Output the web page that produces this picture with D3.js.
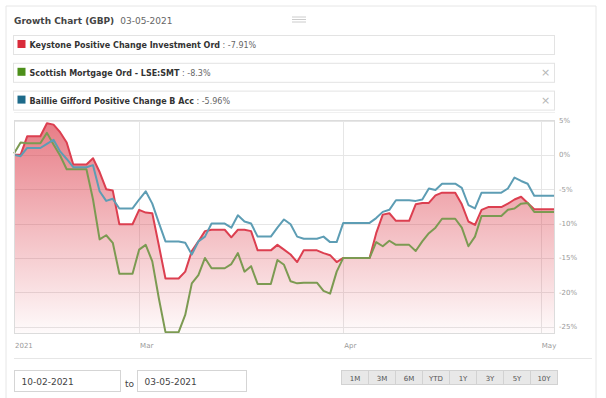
<!DOCTYPE html>
<html>
<head>
<meta charset="utf-8">
<script src="https://cdn.jsdelivr.net/npm/d3@7"></script>
<style>
body { margin: 0; background: #fff; }
svg { display: block; font-family: "DejaVu Sans", Verdana, sans-serif; }
</style>
</head>
<body>
<div id="chart"></div>
<script>
const width = 606;
const height = 398;

// one value per calendar day from 10-02-2021 to 03-05-2021 (weekends repeat friday)
const startDate = new Date(2021, 1, 10);
const keystone = [0.0, 0.0, 2.7, 2.7, 2.7, 4.6, 4.4, 3.3, 1.8, -1.4,
    -1.4, -1.4, -0.5, -2.5, -5.0, -5.2, -10.1, -10.1, -10.1, -8.0,
    -8.4, -8.5, -13.2, -18.0, -18.0, -18.0, -17.0, -14.0, -12.6, -11.1,
    -10.9, -10.9, -10.9, -12.0, -10.9, -10.9, -11.1, -13.9, -13.9, -13.9,
    -13.1, -13.8, -14.5, -15.6, -13.9, -13.9, -13.9, -14.3, -14.6, -15.6,
    -15.0, -15.0, -15.0, -15.0, -15.0, -11.4, -8.7, -8.5, -9.6, -9.6,
    -9.6, -7.2, -7.0, -7.0, -5.9, -5.5, -5.5, -5.5, -7.2, -9.7,
    -10.2, -8.0, -7.6, -7.6, -7.6, -7.1, -6.5, -6.1, -7.0, -7.91,
    -7.91, -7.91, -7.91];
const scottish = [0.2, 1.8, 1.7, 1.7, 1.7, 3.2, 1.5, -0.1, -2.1, -2.1,
    -2.1, -2.1, -6.5, -12.3, -11.7, -12.8, -17.3, -17.3, -17.3, -13.8,
    -13.1, -15.5, -20.9, -25.8, -25.8, -25.8, -23.3, -18.7, -17.5, -15.0,
    -16.5, -16.5, -16.5, -15.9, -14.3, -17.0, -16.2, -18.8, -18.8, -18.8,
    -15.3, -16.0, -18.4, -18.7, -18.6, -18.6, -18.6, -19.8, -20.2, -17.0,
    -15.0, -15.0, -15.0, -15.0, -15.0, -12.7, -13.3, -12.5, -13.1, -13.1,
    -13.1, -14.0, -12.6, -11.4, -10.6, -9.3, -9.3, -9.3, -10.6, -13.3,
    -11.9, -8.9, -8.9, -8.9, -8.9, -8.0, -7.8, -7.1, -7.0, -8.3,
    -8.3, -8.3, -8.3];
const baillie = [0.0, -0.2, 1.0, 1.0, 1.0, 1.6, 2.2, 0.5, -0.6, -1.8,
    -1.8, -1.8, -1.5, -5.3, -6.7, -6.4, -7.8, -7.8, -7.8, -6.5,
    -5.3, -7.1, -9.9, -12.6, -12.6, -12.6, -12.8, -14.5, -12.6, -11.9,
    -10.0, -10.0, -10.0, -10.6, -8.8, -9.7, -10.0, -11.9, -11.9, -11.9,
    -10.6, -9.4, -10.1, -11.9, -12.2, -12.2, -12.2, -11.9, -12.7, -12.7,
    -9.9, -9.9, -9.9, -9.9, -9.9, -9.2, -8.3, -8.0, -6.6, -6.6,
    -6.6, -6.7, -6.5, -4.9, -5.1, -4.2, -4.2, -4.2, -4.8, -7.3,
    -7.8, -5.5, -5.5, -5.5, -5.5, -4.9, -3.3, -3.8, -4.2, -5.96,
    -5.96, -5.96, -5.96];

const seriesNames = ["Keystone Positive Change Investment Ord", "Scottish Mortgage Ord - LSE:SMT", "Baillie Gifford Positive Change B Acc"];
const seriesReturns = ["-7.91%", "-8.3%", "-5.96%"];
const seriesColors = ["#d92b3a", "#4d8f1a", "#1d6a8a"];
const lineColors = ["#dc3f50", "#7c9a52", "#5d9db4"];
const yTicks = [5, 0, -5, -10, -15, -20, -25];
const xTickDates = [new Date(2021, 1, 10), new Date(2021, 2, 1), new Date(2021, 3, 1), new Date(2021, 4, 1)];
const xTickLabels = ["2021", "Mar", "Apr", "May"];
const rangeButtons = ["1M", "3M", "6M", "YTD", "1Y", "3Y", "5Y", "10Y"];

const dates = keystone.map((v, i) => d3.timeDay.offset(startDate, i));

const plot = {left: 14, right: 554, top: 120.5, bottom: 333.5};

const svg = d3.select("#chart").append("svg")
    .attr("width", width)
    .attr("height", height);

// panel frame
svg.append("path")
    .attr("d", `M6,${height} V6 H596 V${height}`)
    .attr("fill", "none")
    .attr("stroke", "#e6e6e6");

// title
const title = svg.append("text")
    .attr("x", 14)
    .attr("y", 24)
    .style("font-size", "9px")
    .style("fill", "#444");
title.append("tspan").style("font-weight", "bold").text("Growth Chart (GBP)");
title.append("tspan").attr("dx", 6).style("fill", "#666").text("03-05-2021");

// menu icon
svg.append("g").selectAll("line")
    .data([17, 19.5, 22])
    .join("line")
    .attr("x1", 292).attr("x2", 306)
    .attr("y1", d => d).attr("y2", d => d)
    .attr("stroke", "#ccc");

// legend boxes
const legend = svg.append("g").selectAll("g")
    .data(seriesNames)
    .join("g")
    .attr("transform", (d, i) => `translate(13.5, ${35.5 + i * 27.8})`);

legend.append("rect")
    .attr("width", 541)
    .attr("height", 19)
    .attr("fill", "#fff")
    .attr("stroke", "#e3e3e3");

legend.append("rect")
    .attr("x", 4).attr("y", 4.5)
    .attr("width", 8).attr("height", 8)
    .attr("fill", (d, i) => seriesColors[i]);

const legendText = legend.append("text")
    .attr("x", 16)
    .attr("y", 12.5)
    .style("font-size", "8px")
    .style("fill", "#333");
legendText.append("tspan").style("font-weight", "bold").text(d => d);
legendText.append("tspan").style("fill", "#666").text((d, i) => " : " + seriesReturns[i]);

legend.filter((d, i) => i > 0).append("text")
    .attr("x", 532)
    .attr("y", 13)
    .attr("text-anchor", "middle")
    .style("font-size", "11px")
    .style("fill", "#b5b5b5")
    .text("×");

// faint line under legend
svg.append("line")
    .attr("x1", 14).attr("x2", 555)
    .attr("y1", 112.5).attr("y2", 112.5)
    .attr("stroke", "#f0f0f0");

// scales
const x = d3.scaleTime()
    .domain([dates[0], dates[dates.length - 1]])
    .range([plot.left, plot.right]);

const y = d3.scaleLinear()
    .domain([-26, 5])
    .range([plot.bottom, plot.top]);

// grid
svg.append("g").selectAll("line")
    .data(yTicks)
    .join("line")
    .attr("x1", plot.left).attr("x2", plot.right)
    .attr("y1", d => Math.round(y(d)) + 0.5).attr("y2", d => Math.round(y(d)) + 0.5)
    .attr("stroke", "#e6e6e6");

svg.append("g").selectAll("line")
    .data(xTickDates.slice(1))
    .join("line")
    .attr("x1", d => Math.round(x(d)) + 0.5).attr("x2", d => Math.round(x(d)) + 0.5)
    .attr("y1", plot.top).attr("y2", plot.bottom)
    .attr("stroke", "#e6e6e6");

// area gradient
const grad = svg.append("defs").append("linearGradient")
    .attr("id", "redFill")
    .attr("gradientUnits", "userSpaceOnUse")
    .attr("x1", 0).attr("x2", 0)
    .attr("y1", plot.top).attr("y2", plot.bottom);
grad.append("stop").attr("offset", 0).attr("stop-color", seriesColors[0]).attr("stop-opacity", 0.62);
grad.append("stop").attr("offset", 1).attr("stop-color", seriesColors[0]).attr("stop-opacity", 0.02);

const area = d3.area()
    .x((d, i) => x(dates[i]))
    .y0(plot.bottom)
    .y1(d => y(d));

svg.append("path")
    .datum(keystone)
    .attr("d", area)
    .attr("fill", "url(#redFill)");

const line = d3.line()
    .x((d, i) => x(dates[i]))
    .y(d => y(d));

svg.append("g").selectAll("path")
    .data([keystone, scottish, baillie])
    .join("path")
    .attr("d", line)
    .attr("fill", "none")
    .attr("stroke", (d, i) => lineColors[i])
    .attr("stroke-width", 2)
    .attr("stroke-linejoin", "round");

// plot border
svg.append("rect")
    .attr("x", plot.left + 0.5).attr("y", plot.top)
    .attr("width", plot.right - plot.left).attr("height", plot.bottom - plot.top)
    .attr("fill", "none")
    .attr("stroke", "#dcdcdc");

// y axis labels on the right
svg.append("g").selectAll("text")
    .data(yTicks)
    .join("text")
    .attr("x", 559)
    .attr("y", d => y(d) + 2.5)
    .style("font-size", "7px")
    .style("fill", "#999")
    .text(d => d + "%");

// x axis labels
svg.append("g").selectAll("text")
    .data(xTickDates)
    .join("text")
    .attr("x", d => x(d) + 1)
    .attr("y", 348)
    .style("font-size", "7px")
    .style("fill", "#999")
    .text((d, i) => xTickLabels[i]);

// separator
svg.append("line")
    .attr("x1", 14).attr("x2", 592)
    .attr("y1", 358.5).attr("y2", 358.5)
    .attr("stroke", "#e6e6e6");

// date inputs
const inputs = [{x: 14, w: 106, t: "10-02-2021"}, {x: 137, w: 109, t: "03-05-2021"}];
const inp = svg.append("g").selectAll("g")
    .data(inputs)
    .join("g")
    .attr("transform", d => `translate(${d.x + 0.5}, 370.5)`);
inp.append("rect")
    .attr("width", d => d.w).attr("height", 21)
    .attr("fill", "#fff")
    .attr("stroke", "#d5d5d5");
inp.append("text")
    .attr("x", 7).attr("y", 14)
    .style("font-size", "9px")
    .style("fill", "#444")
    .text(d => d.t);

svg.append("text")
    .attr("x", 125).attr("y", 387)
    .style("font-size", "9px")
    .style("fill", "#444")
    .text("to");

// range buttons
const bx = d3.scaleBand()
    .domain(rangeButtons)
    .range([341, 557]);
const btn = svg.append("g").selectAll("g")
    .data(rangeButtons)
    .join("g")
    .attr("transform", d => `translate(${bx(d) + 0.5}, 370.5)`);
btn.append("rect")
    .attr("width", bx.bandwidth()).attr("height", 14)
    .attr("fill", "#e8e8e8")
    .attr("stroke", "#d2d2d2");
btn.append("text")
    .attr("x", bx.bandwidth() / 2).attr("y", 10)
    .attr("text-anchor", "middle")
    .style("font-size", "7px")
    .style("fill", "#555")
    .text(d => d);
</script>
</body>
</html>
